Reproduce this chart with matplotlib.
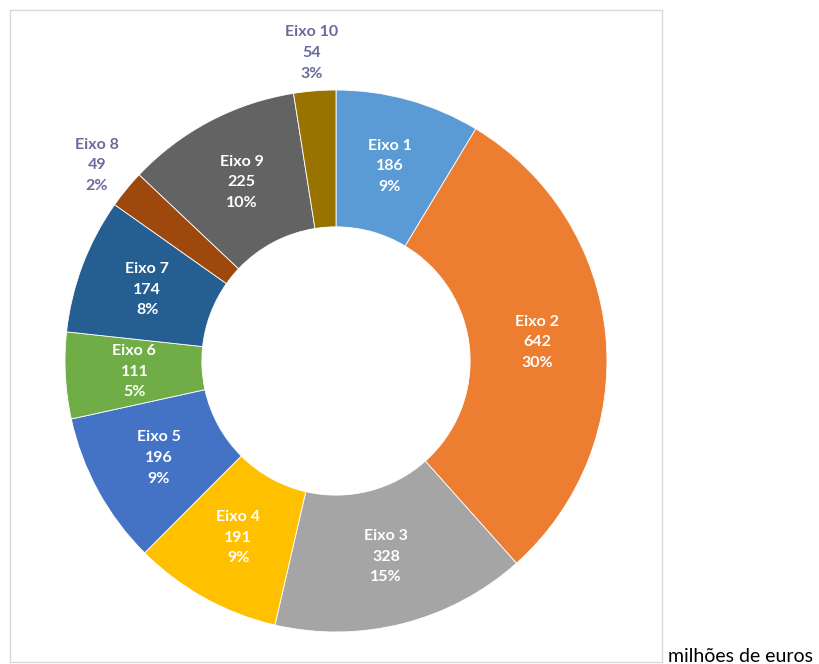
import numpy as np
import matplotlib.pyplot as plt

# Donut chart - investimento por eixo

labels = ["Eixo 1", "Eixo 2", "Eixo 3", "Eixo 4", "Eixo 5",
          "Eixo 6", "Eixo 7", "Eixo 8", "Eixo 9", "Eixo 10"]
values = [186, 642, 328, 191, 196, 111, 174, 49, 225, 54]
percents = ["9%", "30%", "15%", "9%", "9%", "5%", "8%", "2%", "10%", "3%"]
colors = ["#5B9BD5", "#ED7D31", "#A5A5A5", "#FFC000", "#4472C4",
          "#70AD47", "#255E91", "#9E480E", "#636363", "#997300"]
outside = ["Eixo 8", "Eixo 10"]

plt.rcParams['font.family'] = ['Lato', 'DejaVu Sans']

fig = plt.figure(figsize=(8.2, 6.64), dpi=100)
# axes covers the light grey chart frame
ax = fig.add_axes([10/820, 2/664, 652/820, 652/664])
R = 271.0

wedges, _ = ax.pie(values, colors=colors, startangle=90, counterclock=False,
                   radius=1.0, frame=True,
                   wedgeprops=dict(width=0.505, edgecolor='white', linewidth=0.6))

ax.set_xlim(-326/R, 326/R)
ax.set_ylim(-(662-361)/R, (361-10)/R)
ax.set_aspect('equal')
ax.set_xticks([])
ax.set_yticks([])
ax.set_frame_on(True)
for s in ax.spines.values():
    s.set_visible(True)
    s.set_color('#D9D9D9')
    s.set_linewidth(1)

for w, lab, v, p in zip(wedges, labels, values, percents):
    ang = np.deg2rad((w.theta1 + w.theta2) / 2)
    txt = f"{lab}\n{v}\n{p}"
    if lab in outside:
        r = 1.14
        col = '#6A6A9E'
    else:
        r = 0.745
        col = 'white'
    ax.text(r*np.cos(ang), r*np.sin(ang), txt, ha='center', va='center',
            color=col, fontsize=11.5, fontweight='bold', linespacing=1.6)

fig.text(668/820, 1 - 656/664, "milhões de euros", ha='left', va='center',
         fontsize=14, color='black')

fig.savefig("out.png", dpi=100)
